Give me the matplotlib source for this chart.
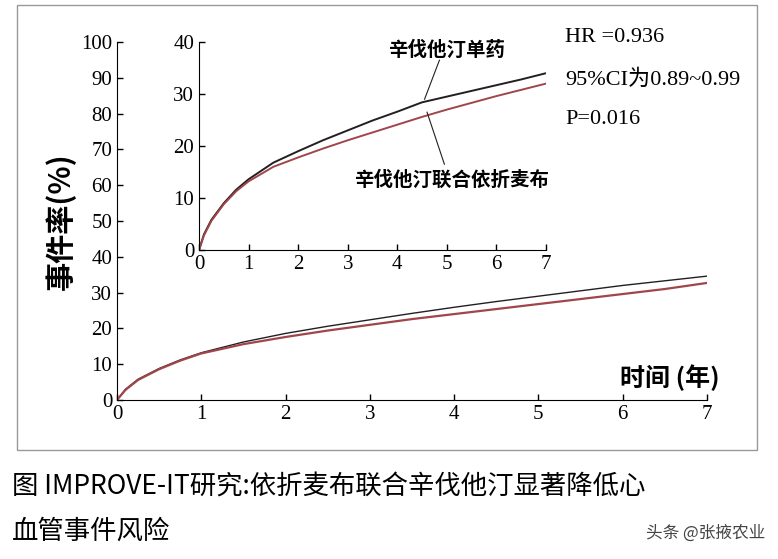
import matplotlib
matplotlib.use("Agg")
import matplotlib.pyplot as plt
from matplotlib.patches import Rectangle

t = [0, 0.05, 0.1, 0.25, 0.5, 0.75, 1, 1.5, 2, 2.5, 3, 3.5, 4, 4.5, 5, 5.5, 6, 6.5, 7]
main_mono = [0, 1.5, 3, 5.8, 8.8, 11.2, 13.2, 16.2, 18.6, 20.6, 22.4, 24.2, 25.9, 27.5, 29.0, 30.5, 32.0, 33.3, 34.6]
main_combo = [0, 1.4, 2.8, 5.6, 8.6, 11.0, 13.0, 15.6, 17.6, 19.4, 21.0, 22.6, 24.0, 25.4, 26.8, 28.2, 29.6, 31.0, 32.7]
ins_mono = [0, 1.5, 3, 5.8, 9.0, 11.6, 13.6, 16.8, 19.0, 21.1, 23.0, 24.9, 26.6, 28.4, 29.5, 30.6, 31.7, 32.8, 34.0]
ins_combo = [0, 1.4, 2.8, 5.6, 8.8, 11.3, 13.2, 16.0, 17.8, 19.5, 21.1, 22.6, 24.1, 25.6, 27.0, 28.3, 29.6, 30.8, 32.0]
main_yticks = list(range(0, 101, 10))
ins_yticks = [0, 10, 20, 30, 40]
xticks = list(range(0, 8))

plt.rcParams['font.family'] = ['Liberation Serif', 'Noto Sans CJK SC']
cjk = ['Noto Sans CJK SC', 'DejaVu Sans']
W, H = 778, 559
fig = plt.figure(figsize=(W/100, H/100), dpi=100)
fig.patches.append(Rectangle((17/W, 1-450/H), 740/W, 445/H, transform=fig.transFigure,
                             fill=False, edgecolor='#999999', lw=1))

black = '#231f20'; red = '#a0464a'
def ax_at(x0, y0, x1, y1):
    return fig.add_axes([x0/W, 1-y1/H, (x1-x0)/W, (y1-y0)/H])

ax = ax_at(117, 42, 707, 400)
ax.plot(t, main_mono, color=black, lw=1.0)
ax.plot(t, main_combo, color=red, lw=1.6)
ax.set_xlim(0, 7); ax.set_ylim(0, 100)
ax.set_xticks(xticks); ax.set_yticks(main_yticks)
for s in ['top', 'right']:
    ax.spines[s].set_visible(False)
ax.tick_params(labelsize=15, direction='in', length=4, width=1)
ax.patch.set_alpha(0)
ax.set_ylabel('事件率(%)', family=cjk, fontsize=21, fontweight='bold')
ax.text(7.15, 2.5, '时间 (年)', family=cjk, fontsize=18, fontweight='bold', ha='right', va='bottom',
        transform=ax.transData)

ia = ax_at(199, 42, 546, 250)
ia.plot(t, ins_mono, color=black, lw=1.4)
ia.plot(t, ins_combo, color=red, lw=1.4)
ia.set_xlim(0, 7); ia.set_ylim(0, 40)
ia.set_xticks(xticks); ia.set_yticks(ins_yticks)
for s in ['top', 'right']:
    ia.spines[s].set_visible(False)
ia.tick_params(labelsize=15, direction='in', length=4, width=1)
ia.patch.set_alpha(0)
ia.text(5.0, 38.5, '辛伐他汀单药', family=cjk, fontsize=14, fontweight='bold', ha='center', va='center')
ia.plot([4.85, 4.55], [36.5, 29.0], color=black, lw=0.8)
ia.text(5.1, 13.5, '辛伐他汀联合依折麦布', family=cjk, fontsize=14, fontweight='bold', ha='center', va='center')
ia.plot([4.95, 4.6], [16.5, 26.5], color=black, lw=0.8)

fig.text(565/W, 1-38/H, 'HR =0.936', fontsize=16, va='center')
fig.text(565/W, 1-80/H, '95%CI为0.89~0.99', fontsize=16, va='center', family=['Liberation Serif', 'Noto Sans CJK SC'])
fig.text(565/W, 1-120/H, 'P=0.016', fontsize=16, va='center')

fig.text(12/W, 1-487/H, '图 IMPROVE-IT研究:依折麦布联合辛伐他汀显著降低心', family=cjk, fontsize=19, va='center')
fig.text(12/W, 1-531/H, '血管事件风险', family=cjk, fontsize=19, va='center')
fig.text(765/W, 1-533/H, '头条 @张掖农业', family=cjk, fontsize=12, ha='right', va='center', color='#444444')

fig.savefig('out.png', dpi=100)
